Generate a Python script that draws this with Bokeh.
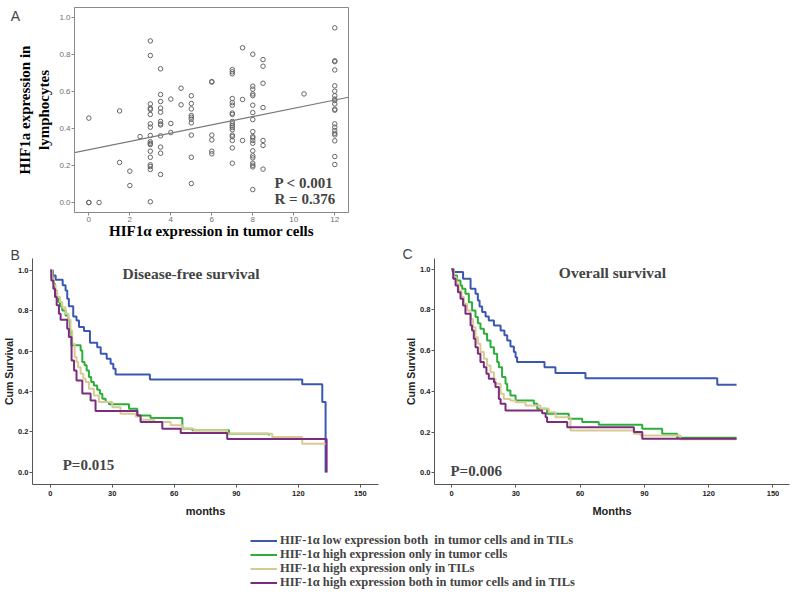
from bokeh.plotting import figure
from bokeh.models import Range1d, Label, Legend, LegendItem, FixedTicker, PrintfTickFormatter
from bokeh.layouts import column, row
from bokeh.embed import file_html
from bokeh.resources import INLINE

SERIF = "Liberation Serif"
SANS = "Liberation Sans"

# ---------------- Panel A: scatter ----------------
a_tumor_scores = [0, 0.5, 1.5, 2, 2.5, 3, 3.5, 4, 4.5, 5, 6, 7, 7.5, 8, 8.5, 10.5, 12]
a_lymph_by_score = [
    [0.457, 0.0, 0.0],
    [0.0],
    [0.496, 0.217],
    [0.17, 0.092],
    [0.357],
    [0.875, 0.796, 0.534, 0.511, 0.504, 0.477, 0.426, 0.408, 0.363, 0.329, 0.32, 0.314, 0.278, 0.245, 0.204, 0.195, 0.179, 0.004],
    [0.724, 0.585, 0.547, 0.511, 0.489, 0.439, 0.426, 0.42, 0.361, 0.30, 0.267, 0.152],
    [0.56, 0.428, 0.379],
    [0.619, 0.529],
    [0.578, 0.536, 0.507, 0.471, 0.462, 0.451, 0.431, 0.365, 0.245, 0.103],
    [0.655, 0.652, 0.365, 0.339, 0.278, 0.264],
    [0.72, 0.708, 0.697, 0.563, 0.541, 0.527, 0.484, 0.477, 0.439, 0.426, 0.415, 0.406, 0.394, 0.365, 0.357, 0.336, 0.296, 0.213],
    [0.838, 0.558, 0.336],
    [0.803, 0.630, 0.614, 0.588, 0.579, 0.527, 0.487, 0.449, 0.384, 0.357, 0.350, 0.336, 0.321, 0.280, 0.253, 0.242, 0.213, 0.202, 0.193, 0.070],
    [0.774, 0.738, 0.646, 0.514, 0.336, 0.309, 0.181],
    [0.588],
    [0.946, 0.767, 0.763, 0.718, 0.632, 0.603, 0.578, 0.560, 0.552, 0.534, 0.505, 0.50, 0.426, 0.408, 0.390, 0.375, 0.366, 0.334, 0.249, 0.206],
]
a_fit_x = [-0.7, 12.67]
a_fit_y = [0.27, 0.57]
a_x_ticks = [0, 2, 4, 6, 8, 10, 12]
a_y_ticks = [0.0, 0.2, 0.4, 0.6, 0.8, 1.0]

# ---------------- Panels B/C: Kaplan-Meier ----------------
group_names = [
    "HIF-1\u03b1 low expression both  in tumor cells and in TILs",
    "HIF-1\u03b1 high expression only in tumor cells",
    "HIF-1\u03b1 high expression only in TILs",
    "HIF-1\u03b1 high expression both in tumor cells and in TILs",
]
group_colors = ["#3B58B0", "#2DAE3A", "#D8CA93", "#7B2C7F"]

dfs_t_low = [0, 1.3, 2.6, 6.0, 7.4, 8.2, 9.0, 11.1, 12.7, 13.9, 16.3, 19.2, 22.7, 24.4, 27.3, 29.2, 30.5, 31.6, 48.2, 121.9, 131.6, 133.2]
dfs_s_low = [1.0, 0.975, 0.954, 0.926, 0.901, 0.86, 0.822, 0.772, 0.752, 0.72, 0.70, 0.642, 0.62, 0.587, 0.563, 0.538, 0.513, 0.485, 0.46, 0.436, 0.348, 0.0]
dfs_t_tum = [0, 0.6, 1.5, 2.3, 3.1, 3.9, 4.7, 5.8, 7.4, 8.7, 9.5, 10.2, 14.7, 15.5, 16.6, 17.6, 18.7, 19.8, 21.1, 22.7, 24.0, 25.2, 26.8, 28.4, 38.1, 42.1, 48.5, 63.9, 68.7, 86.5, 105.8]
dfs_s_tum = [1.0, 0.967, 0.934, 0.901, 0.868, 0.843, 0.822, 0.802, 0.777, 0.756, 0.703, 0.629, 0.604, 0.546, 0.53, 0.505, 0.472, 0.447, 0.43, 0.409, 0.389, 0.365, 0.348, 0.337, 0.315, 0.282, 0.269, 0.216, 0.208, 0.191, 0.183]
dfs_t_til = [0, 1.0, 1.8, 2.6, 3.4, 4.7, 5.8, 7.4, 8.7, 9.8, 10.6, 11.8, 12.7, 13.5, 14.7, 16.0, 17.1, 18.7, 21.1, 23.5, 30.0, 34.0, 41.3, 43.7, 50.2, 58.2, 63.9, 69.5, 85.6, 107.4, 121.9, 133.7]
dfs_s_til = [1.0, 0.959, 0.926, 0.893, 0.868, 0.843, 0.818, 0.785, 0.756, 0.703, 0.637, 0.571, 0.546, 0.521, 0.488, 0.464, 0.447, 0.414, 0.381, 0.348, 0.323, 0.29, 0.277, 0.26, 0.249, 0.233, 0.216, 0.208, 0.191, 0.175, 0.142, 0.142]
dfs_t_both = [0, 0.5, 1.5, 2.3, 3.1, 4.2, 5.0, 8.2, 9.0, 10.3, 11.5, 12.7, 15.5, 19.5, 21.9, 42.1, 43.7, 54.2, 63.1, 85.6, 133.7]
dfs_s_both = [1.0, 0.95, 0.909, 0.868, 0.827, 0.785, 0.756, 0.711, 0.67, 0.554, 0.505, 0.455, 0.39, 0.356, 0.304, 0.282, 0.25, 0.216, 0.195, 0.165, 0.0]

os_t_low = [0, 0.6, 5.4, 8.9, 11.2, 12.3, 13.1, 14.3, 15.9, 17.4, 19.8, 22.9, 24.7, 26.0, 27.5, 29.1, 29.9, 30.6, 43.4, 48.5, 62.5, 124.0, 133.0]
os_s_low = [1.0, 0.986, 0.953, 0.904, 0.879, 0.846, 0.817, 0.79, 0.768, 0.748, 0.724, 0.699, 0.675, 0.65, 0.62, 0.593, 0.568, 0.544, 0.519, 0.49, 0.465, 0.432, 0.432]
os_t_tum = [0, 1.1, 2.6, 4.2, 5.0, 6.5, 8.1, 9.6, 11.2, 12.3, 13.5, 15.1, 16.6, 18.2, 19.8, 21.3, 22.1, 23.6, 25.2, 26.0, 27.5, 29.9, 38.4, 40.0, 44.6, 54.7, 61.0, 68.7, 89.0, 98.3, 105.3, 133.0]
os_s_tum = [1.0, 0.969, 0.945, 0.92, 0.904, 0.879, 0.838, 0.797, 0.765, 0.735, 0.707, 0.683, 0.65, 0.617, 0.585, 0.544, 0.519, 0.47, 0.437, 0.404, 0.38, 0.355, 0.339, 0.314, 0.29, 0.265, 0.249, 0.236, 0.216, 0.192, 0.172, 0.172]
os_t_til = [0, 1.1, 2.3, 3.4, 4.7, 5.8, 7.3, 8.9, 10.1, 11.2, 12.3, 13.5, 15.1, 16.6, 18.2, 19.8, 20.5, 22.9, 24.4, 27.5, 29.9, 34.5, 41.5, 45.4, 48.5, 55.5, 85.1, 88.2, 106.8, 133.0]
os_s_til = [1.0, 0.961, 0.928, 0.896, 0.863, 0.83, 0.797, 0.756, 0.715, 0.666, 0.634, 0.593, 0.56, 0.527, 0.494, 0.462, 0.437, 0.388, 0.363, 0.355, 0.347, 0.331, 0.314, 0.298, 0.273, 0.208, 0.192, 0.183, 0.165, 0.165]
os_t_both = [0, 0.8, 1.9, 3.0, 4.2, 5.4, 6.5, 8.9, 9.6, 10.4, 11.2, 12.3, 13.5, 15.1, 16.3, 17.4, 19.8, 20.5, 22.1, 22.9, 25.2, 42.3, 43.9, 44.6, 54.0, 85.1, 89.0, 133.0]
os_s_both = [1.0, 0.953, 0.92, 0.887, 0.855, 0.822, 0.781, 0.724, 0.699, 0.658, 0.617, 0.585, 0.544, 0.519, 0.486, 0.462, 0.445, 0.421, 0.363, 0.339, 0.306, 0.293, 0.273, 0.249, 0.224, 0.2, 0.167, 0.167]

km_x_ticks = [0, 30, 60, 90, 120, 150]
km_y_ticks = [0.0, 0.2, 0.4, 0.6, 0.8, 1.0]

# ---------------- Figure A ----------------
pa = figure(width=360, height=242, x_range=Range1d(-0.70, 12.67), y_range=Range1d(-0.054, 1.056),
            output_backend="svg", toolbar_location=None,
            min_border_left=74, min_border_right=12, min_border_top=7, min_border_bottom=30)
pa.outline_line_color = "#8a8a8a"
pa.grid.visible = False
for ax in (pa.xaxis[0], pa.yaxis[0]):
    ax.axis_line_color = "#8a8a8a"
    ax.major_tick_line_color = "#8a8a8a"
    ax.major_tick_out = 3
    ax.major_tick_in = 0
    ax.minor_tick_line_color = None
    ax.major_label_text_font = SANS
    ax.major_label_text_font_size = "8px"
    ax.major_label_text_color = "#707070"
    ax.major_label_standoff = 1
    ax.axis_label_text_font = SERIF
    ax.axis_label_text_font_style = "bold"
    ax.axis_label_text_font_size = "15px"
    ax.axis_label_text_color = "black"
pa.xaxis.ticker = FixedTicker(ticks=a_x_ticks)
pa.yaxis.ticker = FixedTicker(ticks=a_y_ticks)
pa.xaxis.formatter = PrintfTickFormatter(format="%d")
pa.yaxis.formatter = PrintfTickFormatter(format="%.1f")
pa.xaxis.axis_label = "HIF1\u03b1 expression in tumor cells"
pa.yaxis.axis_label = "HIF1a expression in\nlymphocytes"
pa.xaxis.axis_label_standoff = -2
pa.yaxis.axis_label_standoff = 4

sx, sy = [], []
for xv, ys in zip(a_tumor_scores, a_lymph_by_score):
    for yv in ys:
        sx.append(xv)
        sy.append(yv)
pa.scatter(sx, sy, marker="circle", size=4.5, fill_color=None, line_color="#666666", line_width=1)
pa.line(a_fit_x, a_fit_y, line_color="#7a7a7a", line_width=1.2)
pa.add_layout(Label(x=9.06, y=0.108, text="P < 0.001", text_font=SERIF, text_font_style="bold",
                    text_font_size="15px", text_baseline="middle"))
pa.add_layout(Label(x=9.06, y=0.02, text="R = 0.376", text_font=SERIF, text_font_style="bold",
                    text_font_size="15px", text_baseline="middle"))
pa.add_layout(Label(x=-3.58, y=1.012, text="A", text_font=SANS, text_font_size="14px",
                    text_align="center", text_baseline="middle"), "right")


def km_figure(width, xr, yr, left, right, xlabel, curves_t, curves_s, title, tx, ty, ptext, px, py, letter, lx, ly):
    p = figure(width=width, height=278, x_range=Range1d(*xr), y_range=Range1d(*yr),
               output_backend="svg", toolbar_location=None,
               min_border_left=left, min_border_right=right, min_border_top=16, min_border_bottom=36)
    p.outline_line_color = None
    p.grid.visible = False
    for ax in (p.xaxis[0], p.yaxis[0]):
        ax.axis_line_color = "#555555"
        ax.major_tick_line_color = "#555555"
        ax.major_tick_out = 3
        ax.major_tick_in = 0
        ax.minor_tick_line_color = None
        ax.major_label_text_font = SANS
        ax.major_label_text_font_style = "bold"
        ax.major_label_text_font_size = "7.5px"
        ax.major_label_text_color = "#222222"
        ax.axis_label_text_font = SANS
        ax.axis_label_text_font_style = "bold"
        ax.axis_label_text_color = "#222222"
    p.xaxis.major_label_standoff = 3
    p.yaxis.major_label_standoff = 1
    p.xaxis.ticker = FixedTicker(ticks=km_x_ticks)
    p.yaxis.ticker = FixedTicker(ticks=km_y_ticks)
    p.xaxis.formatter = PrintfTickFormatter(format="%d")
    p.yaxis.formatter = PrintfTickFormatter(format="%.1f")
    p.xaxis.axis_label = xlabel
    p.xaxis.axis_label_text_font_size = "11px"
    p.xaxis.axis_label_standoff = 6
    p.yaxis.axis_label = "Cum Survival"
    p.yaxis.axis_label_text_font_size = "10.5px"
    p.yaxis.axis_label_standoff = 0
    for t, s, c in zip(curves_t, curves_s, group_colors):
        p.step(t, s, mode="after", line_color=c, line_width=2)
    p.add_layout(Label(x=tx, y=ty, text=title, text_font=SERIF, text_font_style="bold",
                       text_font_size="15.5px", text_align="center", text_baseline="middle"))
    p.add_layout(Label(x=px, y=py, text=ptext, text_font=SERIF, text_font_style="bold",
                       text_font_size="15px", text_baseline="middle"))
    p.add_layout(Label(x=lx, y=ly, text=letter, text_font=SANS, text_font_size="14px",
                       text_align="center", text_baseline="middle"), "right")
    return p


pb = km_figure(392, (-8.6, 158.8), (-0.06, 1.059), 32, 14, "months",
               [dfs_t_low, dfs_t_tum, dfs_t_til, dfs_t_both],
               [dfs_s_low, dfs_s_tum, dfs_s_til, dfs_s_both],
               "Disease-free survival", 68.1, 0.985, "P=0.015", 6.0, 0.035, "B", -17.0, 1.074)
pc = km_figure(408, (-7.93, 157.7), (-0.0575, 1.0526), 42, 11, "Months",
               [os_t_low, os_t_tum, os_t_til, os_t_both],
               [os_s_low, os_s_tum, os_s_til, os_s_both],
               "Overall survival", 75.1, 0.982, "P=0.006", -0.5, 0.011, "C", -20.5, 1.077)

# ---------------- Legend (own panel; curves drawn outside its visible range) ----------------
pl = figure(width=800, height=87, x_range=Range1d(1000, 1001), y_range=Range1d(0, 1),
            output_backend="svg", toolbar_location=None, min_border=0,
            x_axis_location=None, y_axis_location=None)
pl.outline_line_color = None
pl.grid.visible = False
legend_rows_y = [59.5, 45.5, 31.5, 17.5]
for name, c, t, s, ly in zip(group_names, group_colors,
                             [dfs_t_low, dfs_t_tum, dfs_t_til, dfs_t_both],
                             [dfs_s_low, dfs_s_tum, dfs_s_til, dfs_s_both],
                             legend_rows_y):
    r = pl.step(t, s, mode="after", line_color=c, line_width=2)
    lg = Legend(items=[LegendItem(label=name, renderers=[r])], location=(176, ly),
                orientation="vertical",
                label_text_font=SERIF, label_text_font_style="bold", label_text_font_size="12.5px",
                label_height=11, glyph_height=11, glyph_width=27, spacing=0, padding=0, margin=0,
                label_standoff=3, border_line_color=None, background_fill_alpha=0)
    pl.add_layout(lg)

layout = column(pa, row(pb, pc), pl)
open("out.html", "w").write(file_html(layout, INLINE))
